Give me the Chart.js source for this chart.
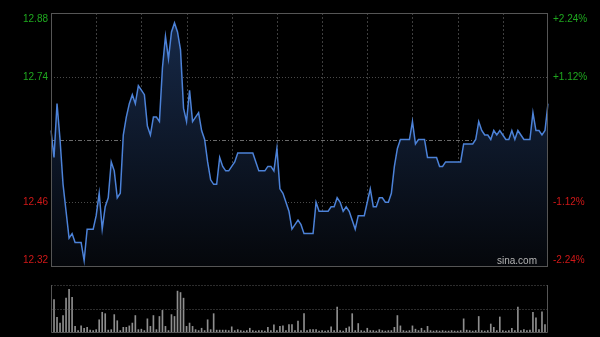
<!DOCTYPE html>
<html>
<head>
<meta charset="utf-8">
<script src="https://cdn.jsdelivr.net/npm/chart.js@4.4.1/dist/chart.umd.min.js"></script>
<style>
  html, body { margin: 0; padding: 0; background: #000; }
  #wrap { position: relative; width: 600px; height: 337px; overflow: hidden; }
  canvas { position: absolute; left: 0; }
  #price { top: 0; }
  #vol { top: 280px; }
</style>
</head>
<body>
<div id="wrap">
  <canvas id="price" width="600" height="270"></canvas>
  <canvas id="vol" width="600" height="57"></canvas>
</div>
<script>
// Intraday minute chart (2-minute samples), prev close 12.60
var prevClose = 12.60;
var priceTicks = [12.32, 12.46, 12.60, 12.74, 12.88];
var pctTicks = ['-2.24%', '-1.12%', '0.00%', '+1.12%', '+2.24%'];

var prices = [
  12.62, 12.56, 12.68, 12.60, 12.50, 12.44, 12.38, 12.39, 12.37, 12.37,
  12.37, 12.33, 12.40, 12.40, 12.40, 12.43, 12.48, 12.40, 12.45, 12.47,
  12.55, 12.53, 12.47, 12.48, 12.61, 12.65, 12.68, 12.70, 12.68, 12.72,
  12.71, 12.70, 12.63, 12.61, 12.65, 12.65, 12.64, 12.76, 12.83, 12.78,
  12.84, 12.86, 12.84, 12.80, 12.67, 12.64, 12.71, 12.64, 12.65, 12.66,
  12.62, 12.60, 12.55, 12.51, 12.50, 12.50, 12.56, 12.54, 12.53, 12.53,
  12.54, 12.55, 12.57, 12.57, 12.57, 12.57, 12.57, 12.57, 12.55, 12.53,
  12.53, 12.53, 12.54, 12.54, 12.53, 12.58, 12.49, 12.48, 12.46, 12.44,
  12.40, 12.41, 12.42, 12.41, 12.39, 12.39, 12.39, 12.39, 12.46, 12.44,
  12.44, 12.44, 12.44, 12.45, 12.45, 12.47, 12.46, 12.44, 12.45, 12.44,
  12.42, 12.40, 12.43, 12.43, 12.43, 12.46, 12.49, 12.45, 12.45, 12.47,
  12.47, 12.46, 12.46, 12.48, 12.54, 12.58, 12.60, 12.60, 12.60, 12.60,
  12.64, 12.59, 12.60, 12.60, 12.60, 12.56, 12.56, 12.56, 12.56, 12.54,
  12.54, 12.55, 12.55, 12.55, 12.55, 12.55, 12.55, 12.59, 12.59, 12.59,
  12.59, 12.60, 12.64, 12.62, 12.61, 12.61, 12.60, 12.62, 12.61, 12.62,
  12.61, 12.60, 12.60, 12.62, 12.60, 12.62, 12.61, 12.60, 12.60, 12.60,
  12.66, 12.62, 12.62, 12.61, 12.62, 12.68
];

// volume, relative to the height of the volume panel (100 = top)
var volumes = [
  35, 69, 31, 19, 35, 72, 91, 74, 12, 3,
  13, 8, 10, 4, 3, 5, 26, 42, 39, 4,
  5, 37, 24, 3, 10, 10, 13, 19, 35, 5,
  6, 3, 28, 12, 35, 5, 33, 46, 12, 3,
  37, 33, 87, 84, 72, 12, 19, 12, 5, 3,
  8, 3, 26, 5, 39, 4, 4, 4, 4, 3,
  11, 3, 5, 3, 2, 3, 8, 3, 2, 3,
  3, 2, 10, 3, 15, 3, 12, 13, 3, 16,
  16, 3, 23, 3, 39, 3, 5, 5, 5, 2,
  3, 2, 3, 11, 3, 53, 3, 2, 8, 11,
  39, 3, 18, 3, 2, 8, 3, 3, 2, 5,
  3, 2, 3, 3, 10, 35, 13, 3, 2, 3,
  13, 6, 3, 8, 3, 12, 3, 2, 3, 2,
  3, 2, 2, 3, 2, 2, 3, 28, 4, 3,
  2, 3, 33, 3, 2, 3, 17, 10, 3, 32,
  3, 2, 3, 8, 3, 53, 3, 5, 3, 4,
  42, 30, 5, 43, 16, 23
];

// time labels: HK session 09:30-12:00, 13:00-16:00, every 2 minutes
var labels = [];
for (var m = 0; m < prices.length; m++) {
  var t = m * 2 < 150 ? 570 + m * 2 : 780 + (m * 2 - 150);
  labels.push(Math.floor(t / 60) + ':' + ('0' + (t % 60)).slice(-2));
}

var GREEN = '#1fa81f', RED = '#d01818';
var FONT = '10px "Liberation Sans", Arial, sans-serif';

function hline(ctx, x0, x1, y) { ctx.beginPath(); ctx.moveTo(x0, y); ctx.lineTo(x1, y); ctx.stroke(); }
function vline(ctx, x, y0, y1) { ctx.beginPath(); ctx.moveTo(x, y0); ctx.lineTo(x, y1); ctx.stroke(); }

var priceFrame = {
  id: 'priceFrame',
  beforeDatasetsDraw: function (chart) {
    var ctx = chart.ctx, a = chart.chartArea, x = chart.scales.x, y = chart.scales.y;
    ctx.save();
    ctx.lineWidth = 1;
    ctx.strokeStyle = '#3e3e3e';
    ctx.setLineDash([2, 2]);
    for (var i = 15; i < labels.length - 1; i += 15) {
      vline(ctx, Math.round(x.getPixelForValue(i)) + 0.5, a.top, a.bottom);
    }
    priceTicks.forEach(function (v, k) {
      if (k === 0 || k === priceTicks.length - 1) return;
      var py = Math.round(y.getPixelForValue(v)) + 0.5;
      if (v === prevClose) { ctx.strokeStyle = '#6a6a6a'; ctx.setLineDash([4, 2, 1, 2]); }
      else { ctx.strokeStyle = '#4a4a4a'; ctx.setLineDash([1, 2]); }
      hline(ctx, a.left, a.right, py);
    });
    ctx.restore();
  },
  afterDatasetsDraw: function (chart) {
    var ctx = chart.ctx, a = chart.chartArea, y = chart.scales.y;
    ctx.save();
    ctx.strokeStyle = '#555';
    ctx.lineWidth = 1;
    ctx.strokeRect(Math.round(a.left) + 0.5, Math.round(a.top) + 0.5,
      Math.round(a.right - a.left) - 1, Math.round(a.bottom - a.top));
    ctx.font = FONT;
    ctx.textBaseline = 'middle';
    priceTicks.forEach(function (v, k) {
      if (v === prevClose) return;
      var py = Math.min(Math.max(y.getPixelForValue(v), a.top + 6), a.bottom - 6);
      ctx.fillStyle = v > prevClose ? GREEN : RED;
      ctx.textAlign = 'right';
      ctx.fillText(v.toFixed(2), a.left - 3, py);
      ctx.textAlign = 'left';
      ctx.fillText(pctTicks[k], a.right + 5, py);
    });
    ctx.fillStyle = '#b4b4b4';
    ctx.textAlign = 'right';
    ctx.textBaseline = 'alphabetic';
    ctx.fillText('sina.com', a.right - 11, a.bottom - 2);
    ctx.restore();
  }
};

new Chart(document.getElementById('price'), {
  type: 'line',
  data: {
    labels: labels,
    datasets: [{
      data: prices,
      borderColor: '#4c82d8',
      borderWidth: 1.5,
      pointRadius: 0,
      tension: 0,
      fill: 'start',
      backgroundColor: function (c) {
        var area = c.chart.chartArea;
        if (!area) return 'rgba(20,35,60,0.6)';
        var g = c.chart.ctx.createLinearGradient(0, area.top, 0, area.bottom);
        g.addColorStop(0, '#172a4a');
        g.addColorStop(1, '#05070b');
        return g;
      }
    }]
  },
  options: {
    responsive: false,
    animation: false,
    layout: { padding: { left: 51, right: 52, top: 13, bottom: 4 } },
    plugins: { legend: { display: false }, tooltip: { enabled: false } },
    scales: {
      x: { display: false, offset: false },
      y: { display: false, min: prevClose * (1 - 0.0224), max: prevClose * (1 + 0.0224) }
    }
  },
  plugins: [priceFrame]
});

var volFrame = {
  id: 'volFrame',
  afterDatasetsDraw: function (chart) {
    var ctx = chart.ctx, a = chart.chartArea, y = chart.scales.y;
    var l = Math.round(a.left) + 0.5, r = Math.round(a.right) - 0.5;
    ctx.save();
    ctx.lineWidth = 1;
    ctx.strokeStyle = '#5a5a5a';
    ctx.setLineDash([1, 2]);
    hline(ctx, l, r, Math.round(y.getPixelForValue(100)) + 0.5);
    hline(ctx, l, r, Math.round(y.getPixelForValue(50)) + 0.5);
    ctx.setLineDash([]);
    ctx.strokeStyle = '#555';
    var b = Math.round(y.getPixelForValue(0)) + 0.5;
    hline(ctx, l, r, b);
    vline(ctx, l, a.top, b);
    vline(ctx, r, a.top, b);
    ctx.restore();
  }
};

new Chart(document.getElementById('vol'), {
  type: 'bar',
  data: {
    labels: labels,
    datasets: [{
      data: volumes,
      backgroundColor: '#8e8e8e',
      barThickness: 1
    }]
  },
  options: {
    responsive: false,
    animation: false,
    layout: { padding: { left: 51, right: 52, top: 5, bottom: 5 } },
    plugins: { legend: { display: false }, tooltip: { enabled: false } },
    scales: {
      x: { display: false, offset: false },
      y: { display: false, min: 0, max: 100 }
    }
  },
  plugins: [volFrame]
});
</script>
</body>
</html>
